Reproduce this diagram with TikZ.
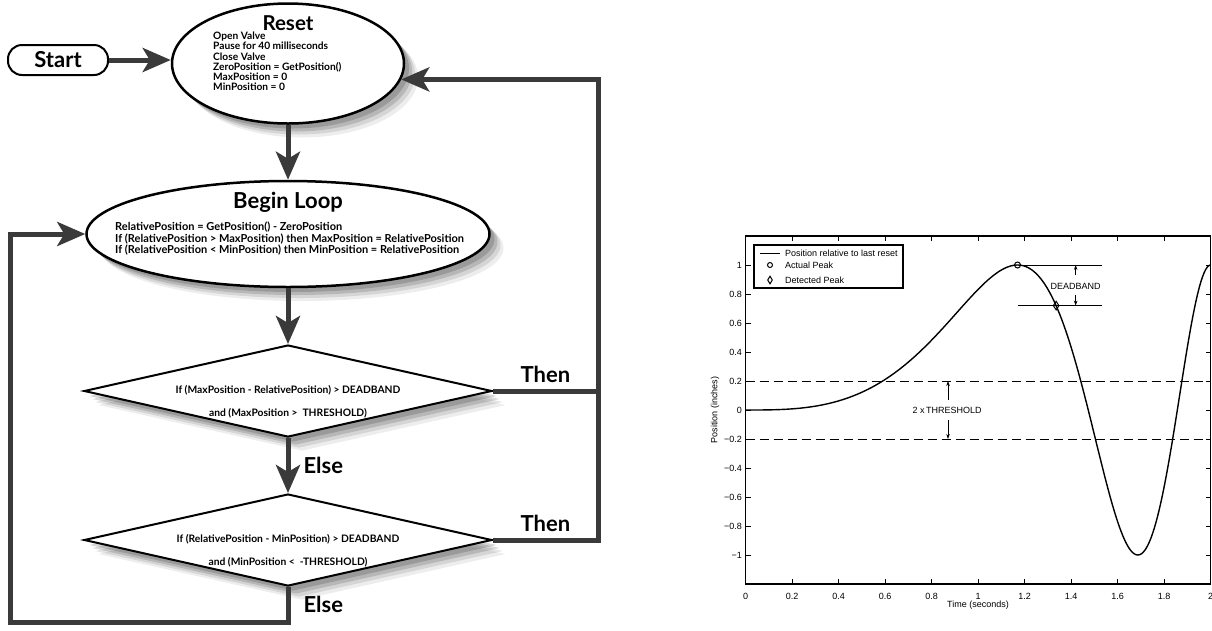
\documentclass[tikz,border=0pt]{standalone}
\usepackage{fontspec}
\newfontfamily\flowfont{Lato}
\newfontfamily\plotfont{Liberation Sans}
\usetikzlibrary{shapes.geometric,arrows.meta,shadows}
\definecolor{flowgray}{HTML}{3A3A3A}

\begin{document}
\begin{tikzpicture}[%
x=1pt, y=-1pt,
flow/.style={draw=flowgray, line width=5pt, -{Stealth[length=28pt,width=24pt,inset=7pt]}},
flowline/.style={draw=flowgray, line width=5pt},
softshadow/.style={general shadow={fill=black, opacity=.07, shadow xshift=14pt, shadow yshift=-14pt},
  general shadow={fill=black, opacity=.10, shadow xshift=11pt, shadow yshift=-11pt},
  general shadow={fill=black, opacity=.14, shadow xshift=8pt, shadow yshift=-8pt},
  general shadow={fill=black, opacity=.16, shadow xshift=5pt, shadow yshift=-5pt}},
state/.style={ellipse, draw, line width=2.5pt, fill=white, softshadow, inner sep=0pt},
test/.style={diamond, draw, line width=2pt, fill=white, softshadow, inner sep=0pt,
  minimum width=408pt, minimum height=92pt},
title/.style={font=\flowfont\bfseries\fontsize{20.5}{22}\selectfont, inner sep=0pt},
branch/.style={font=\flowfont\bfseries\fontsize{22}{24}\selectfont},
resettext/.style={font=\flowfont\bfseries\fontsize{10.2}{10.2}\selectfont, align=left, inner sep=0pt, anchor=north west},
looptext/.style={font=\flowfont\bfseries\fontsize{11}{11.2}\selectfont, align=left, inner sep=0pt, anchor=north west},
testtext/.style={font=\flowfont\bfseries\fontsize{10.3}{23}\selectfont, align=center, inner sep=0pt},
tick/.style={font=\plotfont\fontsize{9}{10}\selectfont},
signal/.style={line width=1.4pt},
thresh/.style={line width=0.9pt, dash pattern=on 9pt off 5pt},
thin arrow/.style={line width=0.7pt, -{Stealth[length=5pt,width=3.5pt]}},
]
\useasboundingbox (0,0) rectangle (1212,630);
%% start;
\node[draw, line width=2pt, rounded corners=14pt, minimum width=100pt, minimum height=30pt,
  font=\flowfont\bfseries\fontsize{22}{22}\selectfont] (start) at (58,60) {Start};
%% reset;
\node[state, minimum width=232pt, minimum height=120pt] (reset) at (288,63.5) {};
\node[title] (resettitle) at (288,23) {Reset};
\node[resettext] (resetbody) at (213,32) {Open Valve\\Pause for 40 milliseconds\\Close Valve\\ZeroPosition = GetPosition()\\MaxPosition = 0\\MinPosition = 0};
%% begin loop;
\node[state, minimum width=403pt, minimum height=106pt] (loop) at (288,234) {};
\node[title, anchor=base, font=\flowfont\bfseries\fontsize{22}{24}\selectfont] (looptitle) at (288,208) {Begin Loop};
\node[looptext] (loopbody) at (115,222) {RelativePosition = GetPosition() - ZeroPosition\\If (RelativePosition > MaxPosition) then MaxPosition = RelativePosition\\If (RelativePosition < MinPosition) then MinPosition = RelativePosition};
%% tests;
\node[test] (test1) at (288,391) {};
\node[testtext] (test1text) at (288,402) {If (MaxPosition - RelativePosition) > DEADBAND\\and (MaxPosition > \ THRESHOLD)};
\node[test] (test2) at (288,540) {};
\node[testtext] (test2text) at (288,551) {If (RelativePosition - MinPosition) > DEADBAND\\and (MinPosition < \ -THRESHOLD)};
%% rails;
\coordinate (railx) at (598,0);
\coordinate (raill) at (10,622);
%% connectors;
\draw[flow] (start) -- (start -| reset.west);
\draw[flow] (reset) -- (loop);
\draw[flow] (loop) -- (test1);
\draw[flow] (test1) -- node[right=13pt, branch, inner sep=0pt] (else1) {Else} (test2);
\draw[flowline] (test1.east) -- node[above=3pt, branch] (then1) {Then} (test1.east -| railx);
\draw[flow] (test2.east) -| node[pos=.25, above=3pt, branch] (then2) {Then} (railx |- reset.-8) -- (reset.-8);
\draw[flow] (test2.south) |- node[pos=.25, right=13pt, branch, inner sep=0pt] (else2) {Else} (raill) |- (loop.west);
%% plot;
\coordinate (plotorigin) at (745.5,410);
\begin{scope}[shift={(plotorigin)}, x=232.5pt, y=145pt]
\draw[thresh] (0,0.2) -- (2,0.2);
\draw[thresh] (0,-0.2) -- (2,-0.2);
\draw[signal] plot[domain=0:2, samples=300] (\x,{sin(0.98076*\x*\x*\x r)});
\draw[line width=1.2pt] (0,-1.2) rectangle (2,1.2);
\foreach \t/\lab in {0/0,0.2/0.2,0.4/0.4,0.6/0.6,0.8/0.8,1/1,1.2/1.2,1.4/1.4,1.6/1.6,1.8/1.8,2/2} {
  \draw[line width=0.8pt] (\t,-1.2) -- ++(0pt,5pt);
  \draw[line width=0.8pt] (\t,1.2) -- ++(0pt,-5pt);
  \node[tick, below=6pt] (xt\lab) at (\t,-1.2) {\lab};
}
\foreach \v/\lab in {1/1,0.8/0.8,0.6/0.6,0.4/0.4,0.2/0.2,0/0,-0.2/−0.2,-0.4/−0.4,-0.6/−0.6,-0.8/−0.8,-1/−1} {
  \draw[line width=0.8pt] (0,\v) -- ++(5pt,0pt);
  \draw[line width=0.8pt] (2,\v) -- ++(-5pt,0pt);
  \node[tick, left] (yt\v) at (0,\v) {\lab};
}
\node[tick] (xlabel) at (1,-1.345) {Time (seconds)};
\node[tick, rotate=90] (ylabel) at (-0.131,0) {Position (inches)};
%% peaks;
\node[circle, draw, line width=1pt, minimum size=6pt, inner sep=0pt] (actual) at (1.17,1) {};
\node[diamond, draw, line width=1pt, minimum width=6pt, minimum height=9pt, inner sep=0pt] (detected) at (1.336,0.72) {};
%% deadband;
\draw[line width=0.8pt] (actual) -- (1.532,1);
\draw[line width=0.8pt] (1.172,0.72) -- (1.532,0.72);
\coordinate (db1) at (1.42,0.93);
\coordinate (db2) at (1.42,1);
\coordinate (db3) at (1.42,0.79);
\coordinate (db4) at (1.42,0.72);
\draw[thin arrow] (db1) -- (db2);
\draw[thin arrow] (db3) -- (db4);
\node[tick] (deadband) at (1.42,0.855) {DEADBAND};
%% threshold;
\coordinate (th1) at (0.871,0.07);
\coordinate (th2) at (0.871,0.2);
\coordinate (th3) at (0.871,-0.07);
\coordinate (th4) at (0.871,-0.2);
\draw[thin arrow] (th1) -- (th2);
\draw[thin arrow] (th3) -- (th4);
\node[tick] (threshold) at (0.867,0) {2 x\,THRESHOLD};
\end{scope}
%% legend;
\draw[line width=1.2pt, fill=white] (754,245) rectangle (903,288);
\draw[line width=1pt] (760,253) -- (780,253);
\node[circle, draw, line width=1pt, minimum size=5pt, inner sep=0pt] (legcircle) at (770,265) {};
\node[diamond, draw, line width=1pt, minimum width=5pt, minimum height=8pt, inner sep=0pt] (legdiamond) at (770,280) {};
\node[tick, anchor=west, inner sep=0pt] (leg1) at (785,253) {Position relative to last reset};
\node[tick, anchor=west, inner sep=0pt] (leg2) at (785,265) {Actual Peak};
\node[tick, anchor=west, inner sep=0pt] (leg3) at (785,280) {Detected Peak};
\end{tikzpicture}
\end{document}
